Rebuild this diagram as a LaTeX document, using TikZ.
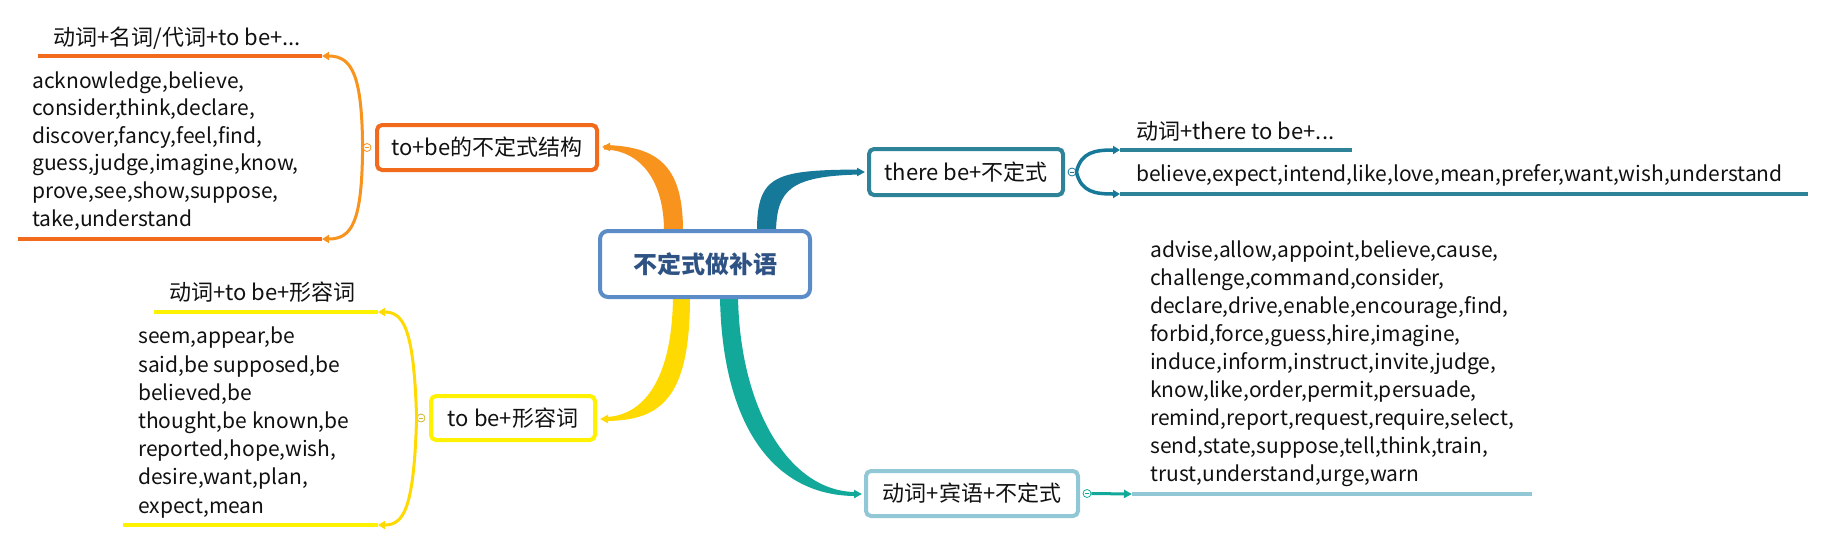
\documentclass[tikz,border=0pt]{standalone}
\usepackage{fontspec}
\setmainfont{Noto Sans CJK SC}
\usetikzlibrary{arrows.meta,calc}
\definecolor{cRoot}{HTML}{5B8CC8}
\definecolor{cTitle}{HTML}{2E5283}
\definecolor{cOrBox}{HTML}{F26A1B}
\definecolor{cOr}{HTML}{F8931D}
\definecolor{cYeBox}{HTML}{FFF200}
\definecolor{cYe}{HTML}{FFDA00}
\definecolor{cTeBox}{HTML}{2F8399}
\definecolor{cTe}{HTML}{16799A}
\definecolor{cGrBox}{HTML}{92C8D6}
\definecolor{cGr}{HTML}{13A99A}
\definecolor{cTxt}{HTML}{111111}
\tikzset{
  every node/.style={text=cTxt},
  topic/.style={draw, line width=4pt, rounded corners=5pt, fill=white, inner sep=0pt, font=\fontsize{22}{24}\selectfont},
  rootbox/.style={draw=cRoot, line width=4pt, rounded corners=8pt, fill=white, inner sep=0pt, minimum width=210pt, minimum height=66pt, font=\fontsize{24}{28}\selectfont\bfseries, text=cTitle},
  words/.style={inner sep=0pt, align=left, anchor=base west},
  head/.style={inner sep=0pt, font=\fontsize{22}{24}\selectfont, anchor=base west},
  under/.style={line width=4pt},
  brace/.style={line width=3pt, -{Triangle[length=7pt,width=8pt]}},
  stub/.style={line width=2.5pt, -{Triangle[length=8pt,width=8pt]}},
  marker/.style={circle, draw, fill=white, line width=0.8pt, minimum size=8pt, inner sep=0pt,
    path picture={\draw[line width=0.8pt] ([xshift=-2pt]path picture bounding box.center) -- ([xshift=2pt]path picture bounding box.center);}},
}
\begin{document}
\begin{tikzpicture}[x=1pt,y=-1pt]
\fill[white] (0,0) rectangle (1825,542);
\useasboundingbox (0,0) rectangle (1825,542);

% main branches (tapered)
\fill[cOr] (683,231) .. controls (683,170) and (662,146) .. (604,145) -- (604,149.5) .. controls (640,150) and (664,180) .. (664,231) -- cycle;
\fill[cYe] (690,297) .. controls (690,400) and (660,421) .. (604,421) -- (604,417) .. controls (640,417) and (672,385) .. (673,297) -- cycle;
\fill[cTe] (757,231) .. controls (757,175) and (775,170) .. (860,169.5) -- (860,174.5) .. controls (790,176) and (777,190) .. (776,231) -- cycle;
\fill[cGr] (720,297) .. controls (722,420) and (770,496) .. (856,496) -- (856,492) .. controls (790,492) and (740,410) .. (738,297) -- cycle;

% nodes
\node[rootbox] (root) at (705,264) {不定式做补语};
\node[topic, draw=cOrBox, minimum width=220pt, minimum height=45pt] (tobe) at (487,147.5) {to+be的不定式结构};
\node[topic, draw=cYeBox, minimum width=164pt, minimum height=44pt] (adj) at (513,418) {to be+形容词};
\node[topic, draw=cTeBox, minimum width=194pt, minimum height=46pt] (there) at (966,172) {there be+不定式};
\node[topic, draw=cGrBox, minimum width=212pt, minimum height=45pt] (obj) at (972,493.5) {动词+宾语+不定式};

% arrow stubs of the main branches
\coordinate (s1) at (612,147);
\coordinate (s2) at (612,419);
\coordinate (s3) at (852,172);
\coordinate (s4) at (848,494);
\draw[stub, cOr, shorten >=3pt] (s1) -- (tobe.east |- s1);
\draw[stub, cYe, shorten >=3pt] (s2) -- (adj.east |- s2);
\draw[stub, cTe, shorten >=2pt] (s3) -- (there.west |- s3);
\draw[stub, cGr, shorten >=2pt] (s4) -- (obj.west |- s4);

% markers
\node[marker, draw=cOr] (m1) at ([xshift=-8pt]tobe.west) {};
\node[marker, draw=cYe!60!gray] (m2) at ([xshift=-8pt]adj.west) {};
\node[marker, draw=cTe] (m3) at ([xshift=7pt]there.east) {};
\node[marker, draw=cGr] (m4) at ([xshift=7pt]obj.east) {};

% orange sub-branch
\coordinate (o1a) at (322,56);  \coordinate (o1b) at (38,56);
\coordinate (o2a) at (322,239); \coordinate (o2b) at (18,239);
\draw[brace, cOr] (m1.west) .. controls (362,75) and (352,56) .. (o1a);
\draw[brace, cOr] (m1.west) .. controls (362,222) and (352,239) .. (o2a);
\draw[under, cOrBox] (o1a) -- (o1b);
\draw[under, cOrBox] (o2a) -- (o2b);
\node[head] (h1) at (53,45.5) {动词+名词/代词+to be+...};
\node[words, font=\fontsize{21}{27.6}\selectfont] (w1) at (32,226) {acknowledge,believe,\\consider,think,declare,\\discover,fancy,feel,find,\\guess,judge,imagine,know,\\prove,see,show,suppose,\\take,understand};

% yellow sub-branch
\coordinate (y1a) at (378,312); \coordinate (y1b) at (154,312);
\coordinate (y2a) at (378,525); \coordinate (y2b) at (123,525);
\draw[brace, cYe] (m2.west) .. controls (414,330) and (404,312) .. (y1a);
\draw[brace, cYe] (m2.west) .. controls (414,508) and (404,525) .. (y2a);
\draw[under, cYeBox] (y1a) -- (y1b);
\draw[under, cYeBox] (y2a) -- (y2b);
\node[head] (h2) at (169,300.5) {动词+to be+形容词};
\node[words, font=\fontsize{21}{28.17}\selectfont] (w2) at (138,513) {seem,appear,be\\said,be supposed,be\\believed,be\\thought,be known,be\\reported,hope,wish,\\desire,want,plan,\\expect,mean};

% teal sub-branch
\coordinate (t1a) at (1120,150); \coordinate (t1b) at (1352,150);
\coordinate (t2a) at (1120,194); \coordinate (t2b) at (1808,194);
\draw[brace, cTe, line width=3.5pt] (m3.east) .. controls (1081,152) and (1095,150) .. (t1a);
\draw[brace, cTe, line width=3.5pt] (m3.east) .. controls (1081,192) and (1095,194) .. (t2a);
\draw[under, cTeBox] (t1a) -- (t1b);
\draw[under, cTeBox] (t2a) -- (t2b);
\node[head] (h3) at (1136,139.5) {动词+there to be+...};
\node[words, font=\fontsize{21}{28}\selectfont] (w3) at (1136,181) {believe,expect,intend,like,love,mean,prefer,want,wish,understand};

% green sub-branch
\coordinate (g1a) at (1132,494); \coordinate (g1b) at (1532,494);
\draw[stub, cGr, line width=3pt] (m4.east) -- (g1a);
\draw[under, cGrBox] (g1a) -- (g1b);
\node[words, font=\fontsize{21}{28}\selectfont] (w4) at (1150,481) {advise,allow,appoint,believe,cause,\\challenge,command,consider,\\declare,drive,enable,encourage,find,\\forbid,force,guess,hire,imagine,\\induce,inform,instruct,invite,judge,\\know,like,order,permit,persuade,\\remind,report,request,require,select,\\send,state,suppose,tell,think,train,\\trust,understand,urge,warn};
\end{tikzpicture}
\end{document}
